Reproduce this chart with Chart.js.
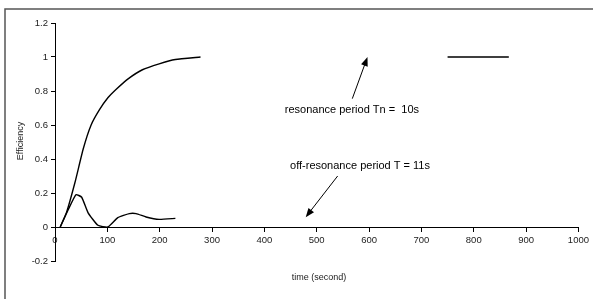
<!DOCTYPE html>
<html>
<head>
<meta charset="utf-8">
<script src="https://cdn.jsdelivr.net/npm/chart.js@4/dist/chart.umd.min.js"></script>
<style>
html,body{margin:0;padding:0;background:#fff;}
#wrap{width:593px;height:299px;position:relative;}
</style>
</head>
<body>
<div id="wrap"><canvas id="c" width="593" height="299"></canvas></div>
<script>
// Resonance curve (period Tn = 10 s); null marks the gap in the drawn line
const resTime = [10, 22, 38, 54, 69, 85, 101, 117, 139, 167, 199, 230, 278, null, 750, 867];
const resEff  = [0, 0.085, 0.26, 0.46, 0.6, 0.69, 0.76, 0.81, 0.87, 0.925, 0.96, 0.985, 1.0, null, 1.0, 1.0];
// Off-resonance curve (period T = 11 s)
const offTime = [10, 25, 40, 51, 63, 82, 101, 120, 142, 155, 174, 199, 230];
const offEff  = [0, 0.10, 0.19, 0.175, 0.085, 0.01, 0.0, 0.055, 0.079, 0.079, 0.059, 0.045, 0.051];
// Axis settings
const xMin = 0, xMax = 1000, xStep = 100;
const yMin = -0.2, yMax = 1.2, yStep = 0.2;
const xTitle = 'time (second)';
const yTitle = 'Efficiency';
// Annotations: text, text anchor (data), arrow tail and tip (data)
const notes = [
  {text: 'resonance period Tn =  10s', tx: 439, ty: 0.69, ax: 568, ay: 0.755, bx: 597, by: 1.0},
  {text: 'off-resonance period T = 11s', tx: 449, ty: 0.357, ax: 540, ay: 0.30, bx: 479, by: 0.058}
];

const toXY = (ts, es) => ts.map((t, i) => ({x: t, y: es[i]}));
const FONT = '"Liberation Sans", Arial, sans-serif';

const extras = {
  id: 'extras',
  afterDraw(chart) {
    const ctx = chart.ctx, xs = chart.scales.x, ys = chart.scales.y;
    ctx.save();
    // frame
    ctx.strokeStyle = '#555';
    ctx.lineWidth = 1.5;
    ctx.beginPath();
    ctx.moveTo(5, 305); ctx.lineTo(5, 9); ctx.lineTo(600, 9);
    ctx.stroke();
    // annotations
    ctx.fillStyle = '#000';
    ctx.strokeStyle = '#000';
    ctx.font = '11px ' + FONT;
    ctx.textBaseline = 'middle';
    ctx.textAlign = 'left';
    notes.forEach(n => {
      ctx.fillText(n.text, xs.getPixelForValue(n.tx), ys.getPixelForValue(n.ty));
      const x1 = xs.getPixelForValue(n.ax), y1 = ys.getPixelForValue(n.ay);
      const x2 = xs.getPixelForValue(n.bx), y2 = ys.getPixelForValue(n.by);
      const ang = Math.atan2(y2 - y1, x2 - x1);
      const L = 9, W = 3.5;
      ctx.lineWidth = 1;
      ctx.beginPath();
      ctx.moveTo(x1, y1);
      ctx.lineTo(x2 - Math.cos(ang) * L * 0.8, y2 - Math.sin(ang) * L * 0.8);
      ctx.stroke();
      ctx.beginPath();
      ctx.moveTo(x2, y2);
      ctx.lineTo(x2 - Math.cos(ang) * L - Math.sin(ang) * W, y2 - Math.sin(ang) * L + Math.cos(ang) * W);
      ctx.lineTo(x2 - Math.cos(ang) * L + Math.sin(ang) * W, y2 - Math.sin(ang) * L - Math.cos(ang) * W);
      ctx.closePath();
      ctx.fill();
    });
    // axis titles
    ctx.font = '9px ' + FONT;
    ctx.fillStyle = '#222';
    ctx.textAlign = 'center';
    ctx.fillText(xTitle, 319, 278);
    ctx.translate(21, 141);
    ctx.rotate(-Math.PI / 2);
    ctx.fillText(yTitle, 0, 0);
    ctx.restore();
  }
};

new Chart(document.getElementById('c'), {
  type: 'line',
  data: {
    datasets: [
      {label: 'resonance', data: toXY(resTime, resEff), borderColor: '#000', borderWidth: 1.4, pointRadius: 0, tension: 0.15, spanGaps: false},
      {label: 'off-resonance', data: toXY(offTime, offEff), borderColor: '#000', borderWidth: 1.4, pointRadius: 0, tension: 0.15}
    ]
  },
  options: {
    responsive: false,
    animation: false,
    devicePixelRatio: 1,
    layout: {padding: {left: 0, right: 10, top: 23, bottom: 38}},
    plugins: {legend: {display: false}, tooltip: {enabled: false}},
    scales: {
      x: {
        type: 'linear',
        position: {y: 0},
        min: xMin, max: xMax,
        ticks: {stepSize: xStep, color: '#222', font: {size: 9.5, family: FONT}, padding: 4, maxRotation: 0, autoSkip: false,
          callback: v => String(v)},
        grid: {drawOnChartArea: false, drawTicks: true, tickLength: 4, color: '#000'},
        border: {display: true, color: '#000', width: 1},
        afterFit(s) { s.height = 0; }
      },
      y: {
        type: 'linear',
        min: yMin, max: yMax,
        ticks: {stepSize: yStep, color: '#222', font: {size: 9.5, family: FONT}, padding: 3,
          callback: v => Math.abs(v) < 1e-9 ? '0' : String(Math.round(v * 10) / 10)},
        grid: {drawOnChartArea: false, drawTicks: true, tickLength: 4, color: '#000'},
        border: {display: true, color: '#000', width: 1},
        afterFit(s) { s.width = 55; }
      }
    }
  },
  plugins: [extras]
});
</script>
</body>
</html>
